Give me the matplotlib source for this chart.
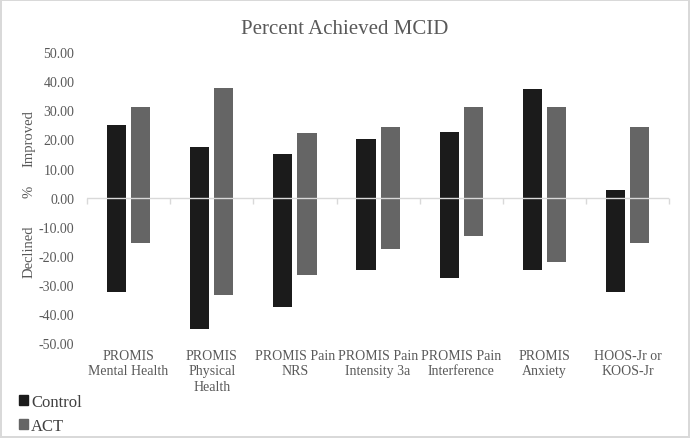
import matplotlib
matplotlib.use('Agg')
import matplotlib.pyplot as plt
import numpy as np
from matplotlib.patches import Patch
from matplotlib.lines import TICKDOWN

plt.rcParams['font.family'] = ['Liberation Serif', 'DejaVu Serif']

# 数据
categories = ['PROMIS\nMental Health', 'PROMIS\nPhysical\nHealth', 'PROMIS Pain\nNRS',
              'PROMIS Pain\nIntensity 3a', 'PROMIS Pain\nInterference', 'PROMIS\nAnxiety',
              'HOOS-Jr or\nKOOS-Jr']
control_improved = [25.0, 17.5, 15.0, 20.0, 22.5, 37.5, 2.5]
control_declined = [-32.5, -45.0, -37.5, -25.0, -27.5, -25.0, -32.5]
act_improved = [31.1, 37.8, 22.2, 24.4, 31.1, 31.1, 24.4]
act_declined = [-15.6, -33.3, -26.7, -17.8, -13.3, -22.2, -15.6]
yticks = [-50, -40, -30, -20, -10, 0, 10, 20, 30, 40, 50]

grey_text = '#595959'
c_control = '#1b1b1b'
c_act = '#656565'

fig = plt.figure(figsize=(6.9, 4.39), dpi=100)
fig.patch.set_edgecolor('#d9d9d9')
fig.patch.set_linewidth(1.5)
ax = fig.add_axes([0.126, 0.216, 0.844, 0.663])

x = np.arange(len(categories))
w = 0.23
off = 0.145
ax.bar(x - off, control_improved, w, color=c_control, zorder=2)
ax.bar(x - off, control_declined, w, color=c_control, zorder=2)
ax.bar(x + off, act_improved, w, color=c_act, zorder=2)
ax.bar(x + off, act_declined, w, color=c_act, zorder=2)

ax.set_xlim(-0.5, len(categories) - 0.5)
ax.set_ylim(-50, 50)
ax.set_yticks(yticks)
ax.set_yticklabels([f'{v:.2f}' for v in yticks])
ax.tick_params(axis='y', length=0, pad=9, labelsize=10, labelcolor=grey_text)

ax.set_xticks(x)
ax.set_xticklabels(categories, linespacing=1.25)
ax.tick_params(axis='x', length=0, pad=4, labelsize=10, labelcolor=grey_text)

for s in ax.spines.values():
    s.set_visible(False)

# 零线和分类刻度
bounds = np.arange(len(categories) + 1) - 0.5
ax.axhline(0, color='#d9d9d9', lw=1.0, zorder=3)
ax.plot(bounds, np.zeros_like(bounds), ls='none', marker=TICKDOWN, ms=4,
        mew=1.0, color='#d9d9d9', zorder=3, clip_on=False)

# y轴说明
trans = matplotlib.transforms.blended_transform_factory(ax.transAxes, ax.transData)
for txt, yy in [('Improved', 20.6), ('%', 2.4), ('Declined', -18.2)]:
    ax.text(-0.1, yy, txt, rotation=90, ha='center', va='center',
            fontsize=10.5, color=grey_text, transform=trans)

fig.suptitle('Percent Achieved MCID', y=0.955, fontsize=15, color=grey_text)

handles = [Patch(color=c_control, label='Control'), Patch(color=c_act, label='ACT')]
leg = fig.legend(handles=handles, loc='upper left', bbox_to_anchor=(0.028, 0.1),
                 frameon=False, fontsize=12, handlelength=0.55, handleheight=0.55,
                 handletextpad=0.15, labelspacing=0.45, borderaxespad=0, borderpad=0)
for t in leg.get_texts():
    t.set_color('#404040')

plt.savefig('out.png', dpi=100)
plt.close()
